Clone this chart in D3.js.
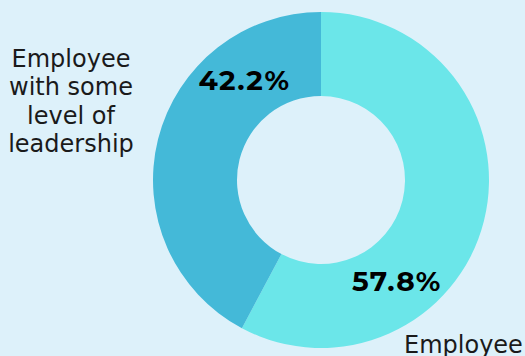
<!DOCTYPE html>
<html>
<head>
<meta charset="utf-8">
<script src="https://cdn.jsdelivr.net/npm/d3@7/dist/d3.min.js"></script>
<style>
  html, body { margin: 0; padding: 0; background: #ddf1fa; overflow: hidden; }
  svg { display: block; }
</style>
</head>
<body>
<svg id="chart" width="525" height="356"></svg>
<script>
// Share of employees by role
const categories = ["Employee", "Employee with some level of leadership"];
const values = [57.8, 42.2];
const valueLabels = ["57.8%", "42.2%"];
const colors = ["#6be6e9", "#44b9d8"];

const width = 525, height = 356;
const cx = 321, cy = 180;
const outerR = 168, innerR = 84;

const svg = d3.select("#chart");
svg.append("rect").attr("width", width).attr("height", height).attr("fill", "#ddf1fa");

const g = svg.append("g").attr("transform", `translate(${cx},${cy})`);

const pie = d3.pie().sort(null).value(d => d)(values);
const arc = d3.arc().innerRadius(innerR).outerRadius(outerR);

g.selectAll("path.slice")
  .data(pie)
  .join("path")
  .attr("class", "slice")
  .attr("d", arc)
  .attr("fill", (d, i) => colors[i]);

// Value labels sit on the ring, pulled toward the inner edge
const labelFont = "'Montserrat', 'DejaVu Sans', sans-serif";
const labelAngles = [0.397, 0.896]; // fraction of the full turn, clockwise from top
const labelR = 126;
g.selectAll("text.value")
  .data(pie)
  .join("text")
  .attr("class", "value")
  .attr("x", (d, i) => labelR * Math.sin(labelAngles[i] * 2 * Math.PI))
  .attr("y", (d, i) => -labelR * Math.cos(labelAngles[i] * 2 * Math.PI))
  .attr("dy", "0.36em")
  .attr("text-anchor", "middle")
  .attr("font-family", labelFont)
  .attr("font-weight", "bold")
  .attr("font-size", 28)
  .attr("letter-spacing", 1.4)
  .attr("fill", "#000")
  .text((d, i) => valueLabels[i]);

// Category names outside the ring
const catFont = "'DejaVu Sans', sans-serif";
const leftLines = ["Employee", "with some", "level of", "leadership"];
const leftLabel = svg.append("text")
  .attr("text-anchor", "middle")
  .attr("font-family", catFont)
  .attr("font-size", 24)
  .attr("fill", "#1a1a1a");
leftLines.forEach((line, i) => {
  leftLabel.append("tspan")
    .attr("x", 71)
    .attr("y", 67 + i * 28.3)
    .text(line);
});

svg.append("text")
  .attr("x", 404)
  .attr("y", 353)
  .attr("font-family", catFont)
  .attr("font-size", 24)
  .attr("fill", "#1a1a1a")
  .text(categories[0]);
</script>
</body>
</html>
